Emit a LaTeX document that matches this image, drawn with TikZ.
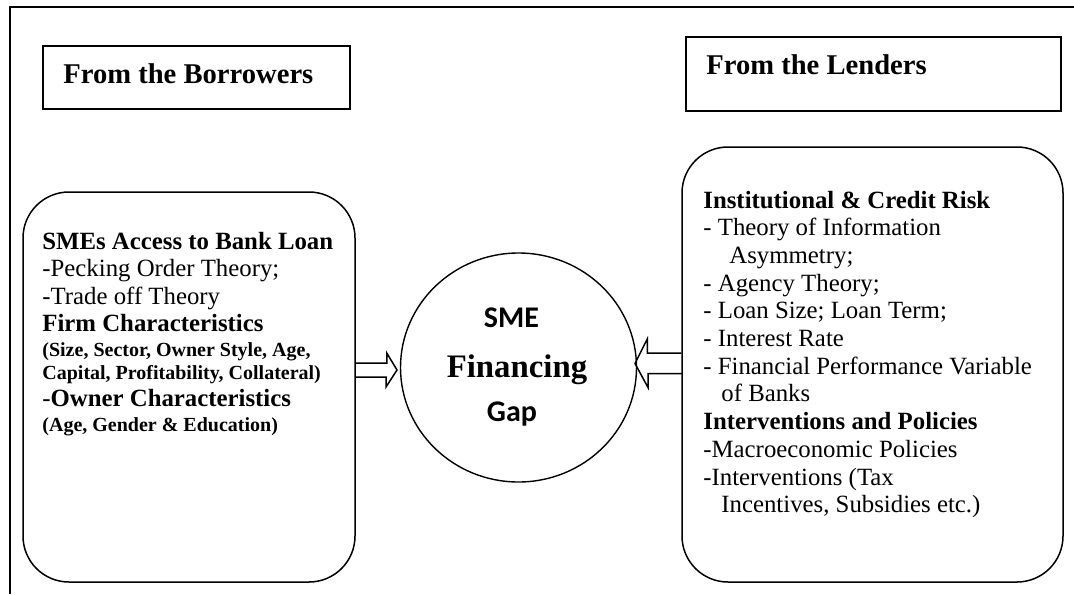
\documentclass[tikz,border=0pt]{standalone}
\usepackage{fontspec}
\setmainfont{Liberation Serif}
\newfontfamily\calibri{Carlito}
\usetikzlibrary{shapes.geometric}

\begin{document}
\begin{tikzpicture}[x=0.5pt,y=-0.5pt,
    box/.style={draw,line width=0.75pt,inner sep=0pt},
    rbox/.style={box,rounded corners=23pt},
    body/.style={anchor=base west,inner sep=0pt,font=\fontsize{12.4}{14}\selectfont},
    bbody/.style={body,font=\bfseries\fontsize{12.4}{14}\selectfont},
    head/.style={body,font=\bfseries\fontsize{14.3}{17}\selectfont},
    sub/.style={body,font=\bfseries\fontsize{10}{12}\selectfont},
    gaptxt/.style={anchor=base,inner sep=0pt},
    fat/.style={line width=0.75pt}]
\useasboundingbox (0,0) rectangle (1074,594);
\draw[line width=1pt] (10,594) -- (10,6.5) -- (1074,6.5);

% headers
\node[box,minimum width=153.5pt,minimum height=31.5pt] (bhead) at (196.5,77.5) {};
\node[box,minimum width=187.5pt,minimum height=37pt] (lhead) at (873.5,74) {};
\node[head] (btitle) at (63,83) {From the Borrowers};
\node[head] (ltitle) at (706,74) {From the Lenders};

% borrowers
\node[rbox,minimum width=166pt,minimum height=195pt] (lbox) at (189,387) {};
\node[bbody] (l1) at (42,249) {SMEs Access to Bank Loan};
\node[body] (l2) at (42,276.7) {-Pecking Order Theory;};
\node[body] (l3) at (42,304) {-Trade off Theory};
\node[bbody] (l4) at (42,331.7) {Firm Characteristics};
\node[sub] (l5) at (42,356.7) {(Size, Sector, Owner Style, Age,};
\node[sub] (l6) at (42,379) {Capital, Profitability, Collateral)};
\node[body] (l7) at (42,406.7) {-\textbf{Owner Characteristics}};
\node[sub] (l8) at (42,431.7) {(Age, Gender \& Education)};

% lenders
\node[rbox,minimum width=190.5pt,minimum height=217.5pt] (rbox) at (872.5,364.5) {};
\node[bbody] (r1) at (703,208) {Institutional \& Credit Risk};
\node[body] (r2) at (703,235.7) {- Theory of Information};
\node[body] (r3) at (729,263.4) {Asymmetry;};
\node[body] (r4) at (703,291.1) {- Agency Theory;};
\node[body] (r5) at (703,318.8) {- Loan Size; Loan Term;};
\node[body] (r6) at (703,346.5) {- Interest Rate};
\node[body] (r7) at (703,374.2) {- Financial Performance Variable};
\node[body] (r8) at (721,401.9) {of Banks};
\node[bbody] (r9) at (703,429.6) {Interventions and Policies};
\node[body] (r10) at (703,457.3) {-Macroeconomic Policies};
\node[body] (r11) at (703,485) {-Interventions (Tax};
\node[body] (r12) at (721,512.7) {Incentives, Subsidies etc.)};

% the gap
\node[draw,ellipse,line width=0.7pt,inner sep=0pt,minimum width=118pt,minimum height=114.5pt] (gap) at (518.5,367.5) {};
\node[gaptxt,font=\calibri\bfseries\fontsize{15}{18}\selectfont] (g1) at (511.5,327) {SME};
\node[gaptxt,font=\bfseries\fontsize{16.4}{19}\selectfont] (g2) at (517,377) {Financing};
\node[gaptxt,font=\calibri\bfseries\fontsize{15}{18}\selectfont] (g3) at (512,421) {Gap};

% arrows
\coordinate (tipL) at (397,370);
\coordinate (tipR) at (635,363.5);
\draw[fat] (lbox.east |- tipL) ++(0,-7) -- ++(31,0) -- ++(0,-10) -- (tipL) -- ++(-11,17) -- ++(0,-10) -- ++(-31,0);
\draw[fat] (rbox.west |- tipR) ++(0,-10.5) -- ++(-34,0) -- ++(0,-14) -- (tipR) -- ++(13,24) -- ++(0,-14) -- ++(34,0);
\end{tikzpicture}
\end{document}
